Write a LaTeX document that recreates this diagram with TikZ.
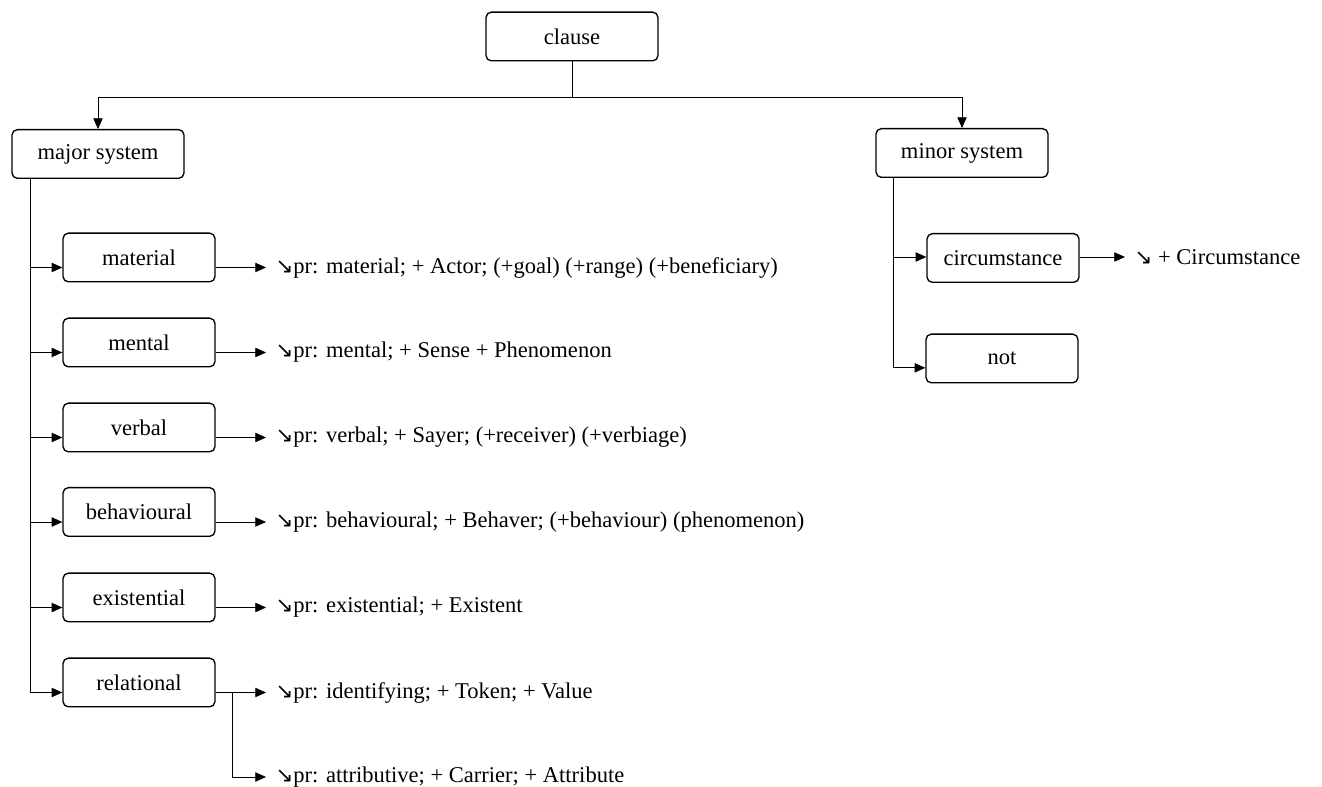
\documentclass[tikz,border=0pt]{standalone}
\usepackage{fontspec}
\setmainfont{Liberation Serif}
\newfontfamily\arrowfont{DejaVu Sans}
\usetikzlibrary{arrows.meta}
\newcommand{\selarrow}{{\arrowfont\fontsize{16}{18}\selectfont ↘}}

\begin{document}
\begin{tikzpicture}[x=0.75pt, y=-0.75pt,
        box/.style={rectangle, draw, rounded corners=4pt, line width=1pt, align=center, minimum height=36.5pt, inner sep=0pt, font=\fontsize{16.9}{20}\selectfont},
        small/.style={box, minimum width=114pt},
        wide/.style={box, minimum width=129pt},
        feature/.style={anchor=west, inner ysep=0pt, inner xsep=7pt, font=\fontsize{16.9}{20}\selectfont},
        link/.style={draw, ->, >={Triangle[length=8pt, width=7pt]}, line width=0.6pt}
    ]
        \useasboundingbox (0,0) rectangle (1322,787);

        % Systems
        \node [wide] (clause) at (572, 36.5) {clause};
        \node [wide] (major) at (98, 154) {major system};
        \node [wide] (minor) at (962, 153) {minor system};

        % Process types
        \node [small] (material) at (139, 257.5) {material};
        \node [small] (mental) at (139, 342.5) {mental};
        \node [small] (verbal) at (139, 427.5) {verbal};
        \node [small] (behavioural) at (139, 512) {behavioural};
        \node [small] (existential) at (139, 597.5) {existential};
        \node [small] (relational) at (139, 682.5) {relational};

        \node [small] (circ) at (1003, 258) {circumstance};
        \node [small] (not) at (1002, 358.5) {not};

        % Realisation statements
        \node [feature] (fmaterial) at (266, 268) {\selarrow pr: material; + Actor; (+goal) (+range) (+beneficiary)};
        \node [feature] (fmental) at (266, 352.5) {\selarrow pr: mental; + Sense + Phenomenon};
        \node [feature] (fverbal) at (266, 437.5) {\selarrow pr: verbal; + Sayer; (+receiver) (+verbiage)};
        \node [feature] (fbehavioural) at (266, 522) {\selarrow pr: behavioural; + Behaver; (+behaviour) (phenomenon)};
        \node [feature] (fexistential) at (266, 607.5) {\selarrow pr: existential; + Existent};
        \node [feature] (fident) at (266, 692.5) {\selarrow pr: identifying; + Token; + Value};
        \node [feature] (fattr) at (266, 777) {\selarrow pr: attributive; + Carrier; + Attribute};
        \node [feature] (fcirc) at (1125, 257) {\selarrow{} + Circumstance};

        \coordinate (fork) at (572, 97);
        \coordinate (lspine) at (30, 0);
        \coordinate (rspine) at (893, 0);
        \coordinate (rbranch) at (232, 0);

        % Connections
        \draw [line width=0.6pt] (clause) -- (fork);
        \path [link] (fork) -| (major);
        \path [link] (fork) -| (minor);

        \foreach \n in {material, mental, verbal, behavioural, existential, relational}
            \path [link] (major.south -| lspine) |- ([yshift=-7.5pt]\n.west);
        \foreach \n in {material, mental, verbal, behavioural, existential}
            \path [link] ([yshift=-7.5pt]\n.east) -- ([yshift=-7.5pt]\n.east -| f\n.west);

        \path [link] ([yshift=-7.5pt]relational.east) -- ([yshift=-7.5pt]relational.east -| fident.west);
        \path [link] ([yshift=-7.5pt]relational.east -| rbranch) |- (fattr.west);

        \path [link] (minor.south -| rspine) |- ([yshift=0.75pt]circ.west);
        \path [link] (minor.south -| rspine) |- ([yshift=-7pt]not.west);
        \path [link] ([yshift=0.75pt]circ.east) -- ([yshift=0.75pt]circ.east -| fcirc.west);
    \end{tikzpicture}
\end{document}
